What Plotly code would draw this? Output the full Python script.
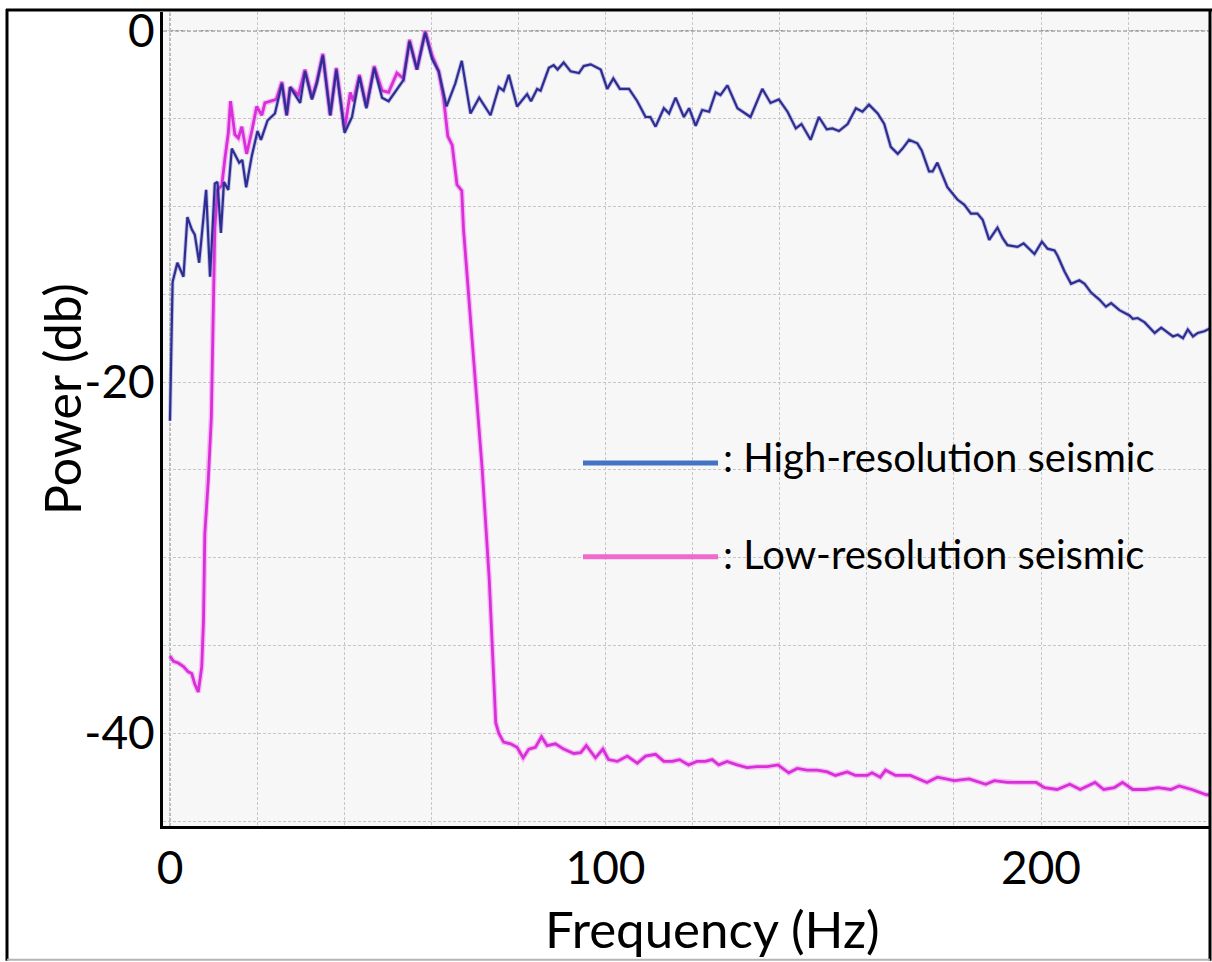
import plotly.graph_objects as go

# High-resolution seismic spectrum (frequency Hz, power dB)
hi_freq = [0.0, 0.6, 1.7, 3.1, 4.0, 5.0, 5.7, 6.7, 8.3, 9.2, 10.3, 10.9, 11.7, 12.4, 13.4, 14.2, 15.9, 16.6,
           17.5, 18.8, 20.1, 20.9, 22.4, 24.1, 25.7, 26.8, 27.6, 29.9, 31.0, 32.6, 33.7, 35.1, 36.8, 38.2,
           40.1, 41.8, 43.5, 45.1, 46.9, 48.7, 50.2, 52.1, 53.6, 55.0, 56.7, 58.6, 60.2, 61.7, 63.5, 65.5,
           67.0, 69.0, 71.0, 73.6, 75.5, 76.6, 77.8, 79.7, 82.0, 82.9, 84.3, 85.1, 87.0, 88.1, 89.0, 90.4,
           92.0, 93.9, 95.0, 96.6, 98.9, 100.4, 101.8, 103.3, 105.4, 107.3, 109.2, 110.3, 111.5, 113.4,
           114.6, 116.1, 118.0, 119.2, 120.7, 122.2, 123.8, 125.3, 126.4, 128.0, 130.3, 133.3, 136.0,
           137.9, 139.8, 141.8, 143.7, 145.0, 147.1, 149.0, 150.8, 152.1, 153.6, 155.6, 157.5, 159.0,
           160.5, 162.5, 164.0, 165.5, 167.1, 168.2, 169.7, 171.6, 172.6, 174.3, 175.1, 176.2, 177.4,
           178.5, 180.8, 182.4, 183.9, 185.4, 186.6, 188.1, 190.0, 191.2, 192.3, 193.9, 194.6, 196.0,
           196.9, 198.5, 200.2, 201.5, 203.1, 203.8, 205.4, 206.9, 208.8, 210.0, 211.5, 213.4, 214.9,
           216.1, 218.0, 220.3, 221.1, 222.2, 223.8, 226.1, 227.6, 228.7, 230.3, 231.4, 232.6, 233.7,
           234.9, 236.0, 237.5, 239.1]
hi_power = [-22.2, -14.3, -13.2, -14.0, -10.6, -11.3, -11.6, -13.2, -9.05, -14.0, -8.7, -8.6, -11.5, -8.6,
            -9.05, -6.7, -7.5, -7.35, -8.9, -7.1, -5.7, -6.2, -5.1, -4.7, -3.0, -4.8, -3.2, -4.1, -2.3,
            -3.9, -3.0, -1.4, -4.8, -2.2, -5.8, -4.9, -2.6, -4.4, -2.1, -3.8, -4.0, -3.3, -2.8, -0.6,
            -2.2, -0.1, -1.6, -2.3, -4.3, -3.0, -1.7, -4.7, -3.8, -4.8, -3.2, -3.4, -2.5, -4.3, -3.6,
            -4.0, -3.3, -3.4, -2.1, -1.95, -2.2, -1.8, -2.3, -2.4, -2.0, -1.9, -2.2, -3.3, -2.7, -3.3,
            -3.3, -4.0, -4.9, -4.9, -5.45, -4.4, -4.7, -3.8, -4.9, -4.4, -5.4, -4.5, -4.6, -3.5, -3.65,
            -3.1, -4.4, -4.9, -3.3, -4.1, -3.9, -4.6, -5.55, -5.3, -6.2, -4.9, -5.6, -5.55, -5.7, -5.3,
            -4.4, -4.6, -4.2, -4.7, -5.3, -6.6, -7.0, -6.7, -6.2, -6.4, -6.8, -8.0, -8.0, -7.5, -8.2,
            -8.9, -9.6, -9.9, -10.4, -10.4, -10.75, -11.9, -11.2, -11.8, -12.2, -12.3, -12.3, -12.1,
            -12.3, -12.7, -12.0, -12.4, -12.5, -12.8, -13.7, -14.4, -14.2, -14.4, -14.9, -15.3, -15.7,
            -15.5, -15.9, -16.2, -16.4, -16.35, -16.6, -17.2, -16.9, -17.1, -17.4, -17.3, -17.5, -17.0,
            -17.4, -17.2, -17.1, -16.9]

# Low-resolution seismic spectrum (frequency Hz, power dB)
lo_freq = [0.0, 0.8, 1.9, 3.1, 4.2, 5.0, 5.7, 6.5, 7.3, 7.7, 8.0, 8.8, 9.5, 9.8, 10.0, 10.3, 10.9, 11.9,
           12.6, 13.4, 13.9, 14.9, 15.7, 16.5, 17.6, 18.8, 19.9, 21.1, 21.8, 23.4, 24.4, 25.7, 26.8,
           27.6, 29.5, 31.0, 32.6, 33.7, 35.1, 36.8, 38.2, 40.1, 41.4, 42.1, 43.5, 45.1, 46.9, 48.7,
           50.2, 52.1, 53.6, 55.0, 56.7, 58.6, 60.2, 61.7, 62.8, 63.8, 64.8, 65.9, 67.0, 67.4, 69.0,
           70.0, 71.7, 73.3, 74.3, 74.8, 75.5, 76.6, 78.2, 79.7, 81.1, 82.4, 83.9, 85.3, 86.6, 88.5,
           90.4, 92.7, 94.3, 95.6, 97.7, 99.4, 100.7, 102.7, 105.0, 107.3, 109.2, 111.5, 113.4, 115.3,
           117.0, 119.1, 121.0, 122.9, 124.5, 126.0, 127.9, 130.2, 132.5, 134.8, 137.1, 139.6, 142.1,
           144.0, 146.3, 148.6, 150.9, 152.8, 155.5, 157.4, 160.1, 161.2, 163.1, 164.3, 166.6, 170.0,
           173.8, 176.2, 180.1, 183.5, 187.3, 189.3, 192.2, 194.1, 198.9, 200.8, 203.7, 206.6, 209.0,
           212.4, 214.4, 216.8, 218.7, 221.1, 224.0, 226.9, 229.8, 231.7, 234.6, 238.0, 239.1]
lo_power = [-35.6, -35.9, -36.0, -36.2, -36.5, -36.6, -37.2, -37.65, -36.2, -33.6, -28.65, -25.6, -22.0,
            -17.5, -14.6, -11.2, -9.05, -8.8, -7.3, -5.8, -4.0, -5.9, -6.1, -5.45, -7.0, -5.7, -4.3,
            -4.8, -4.1, -4.0, -3.9, -2.9, -4.8, -3.2, -3.65, -2.2, -3.8, -2.9, -1.3, -4.8, -2.1, -5.6,
            -3.5, -4.0, -2.5, -4.3, -2.0, -3.4, -3.5, -2.4, -2.7, -0.5, -2.2, 0.0, -1.4, -2.3, -3.8,
            -6.0, -6.5, -8.75, -9.1, -11.3, -16.4, -19.9, -25.0, -31.2, -37.3, -39.4, -40.0, -40.5,
            -40.6, -40.8, -41.4, -40.9, -40.8, -40.2, -40.7, -40.6, -40.9, -41.15, -41.1, -40.7, -41.4,
            -40.9, -41.5, -41.6, -41.3, -41.7, -41.3, -41.2, -41.6, -41.6, -41.5, -41.8, -41.6, -41.6,
            -41.5, -41.8, -41.6, -41.8, -41.95, -41.9, -41.9, -41.8, -42.25, -42.0, -42.1, -42.1, -42.2,
            -42.4, -42.2, -42.4, -42.4, -42.25, -42.5, -42.1, -42.4, -42.4, -42.8, -42.5, -42.7, -42.6,
            -42.9, -42.7, -42.8, -42.8, -42.8, -43.1, -43.2, -42.9, -43.2, -42.8, -43.2, -43.1, -42.8,
            -43.2, -43.2, -43.1, -43.2, -43.0, -43.2, -43.5, -43.5]

x_ticks = [0, 20, 40, 60, 80, 100, 120, 140, 160, 180, 200, 220]
x_labels = ["0", "", "", "", "", "100", "", "", "", "", "200", ""]
y_ticks = [-45, -40, -35, -30, -25, -20, -15, -10, -5, 0]
y_labels = ["", "-40", "", "", "", "-20", "", "", "", "0"]

series_names = [": High-resolution seismic", ": Low-resolution seismic"]

W, H = 1212, 962
L, R, T, B = 163, 1210, 10, 826  # plot area in px
PW, PH = R - L, B - T


def px(xp):
    return (xp - L) / PW


def py(yp):
    return (B - yp) / PH


FONT = "Lato, 'Open Sans', sans-serif"

fig = go.Figure()
fig.add_trace(go.Scatter(x=lo_freq, y=lo_power, mode="lines",
                         line=dict(color="rgba(240,120,240,0.45)", width=5.5), hoverinfo="skip",
                         showlegend=False))
fig.add_trace(go.Scatter(x=lo_freq, y=lo_power, mode="lines", name=series_names[1],
                         line=dict(color="#d92fd9", width=2.8), showlegend=False))
fig.add_trace(go.Scatter(x=hi_freq, y=hi_power, mode="lines",
                         line=dict(color="rgba(90,90,190,0.35)", width=4), hoverinfo="skip",
                         showlegend=False))
fig.add_trace(go.Scatter(x=hi_freq, y=hi_power, mode="lines", name=series_names[0],
                         line=dict(color="#2e2d92", width=2.2), showlegend=False))

grid = dict(showgrid=True, gridcolor="#c6c6c6", gridwidth=1, griddash="3px,2px",
            zeroline=False, ticks="", showline=True, linecolor="black", linewidth=3)

fig.update_layout(
    width=W, height=H,
    margin=dict(l=L, r=W - R, t=T, b=H - B),
    paper_bgcolor="white", plot_bgcolor="#f7f7f7",
    font=dict(family=FONT, color="black", size=46),
    xaxis=dict(range=[-1.6, 238.8], tickvals=x_ticks, ticktext=x_labels,
               tickfont=dict(size=46), **grid),
    yaxis=dict(range=[-45.28, 1.08], tickvals=y_ticks, ticktext=y_labels,
               tickfont=dict(size=46), ticklabelstandoff=-4, **grid),
)

shapes = []
# darker dashed zero lines
shapes.append(dict(type="line", xref="x", yref="paper", x0=0, x1=0, y0=0, y1=1,
                   line=dict(color="#8c8c8c", width=1.2, dash="3px,2px"), layer="below"))
shapes.append(dict(type="line", xref="paper", yref="y", x0=0, x1=1, y0=0, y1=0,
                   line=dict(color="#7a7a7a", width=1.2, dash="4px,2px"), layer="below"))
# outer frame
shapes.append(dict(type="line", xref="paper", yref="paper", x0=px(7), x1=px(7), y0=py(7), y1=py(961),
                   line=dict(color="black", width=3)))
shapes.append(dict(type="line", xref="paper", yref="paper", x0=px(6), x1=px(1212), y0=py(8), y1=py(8),
                   line=dict(color="black", width=3)))
shapes.append(dict(type="line", xref="paper", yref="paper", x0=px(1210), x1=px(1210), y0=py(7), y1=py(961),
                   line=dict(color="black", width=3)))
shapes.append(dict(type="line", xref="paper", yref="paper", x0=px(7), x1=px(1210), y0=py(960), y1=py(960),
                   line=dict(color="#b5b5b5", width=2)))
# legend samples
shapes.append(dict(type="line", xref="paper", yref="paper", x0=px(583), x1=px(718), y0=py(462), y1=py(462),
                   line=dict(color="#4472c4", width=5)))
shapes.append(dict(type="line", xref="paper", yref="paper", x0=px(583), x1=px(718), y0=py(556), y1=py(556),
                   line=dict(color="#ee6acd", width=5)))
fig.update_layout(shapes=shapes)

ann = []
ann.append(dict(text=series_names[0], xref="paper", yref="paper", x=px(721), y=py(456),
                xanchor="left", yanchor="middle", showarrow=False, font=dict(size=40)))
ann.append(dict(text=series_names[1], xref="paper", yref="paper", x=px(721), y=py(553),
                xanchor="left", yanchor="middle", showarrow=False, font=dict(size=40)))
ann.append(dict(text="Frequency (Hz)", xref="paper", yref="paper", x=px(712), y=py(929),
                xanchor="center", yanchor="middle", showarrow=False, font=dict(size=51)))
ann.append(dict(text="Power (db)", xref="paper", yref="paper", x=px(62), y=py(398),
                xanchor="center", yanchor="middle", textangle=-90, showarrow=False, font=dict(size=50)))
fig.update_layout(annotations=ann)

fig.write_html("out.html")
